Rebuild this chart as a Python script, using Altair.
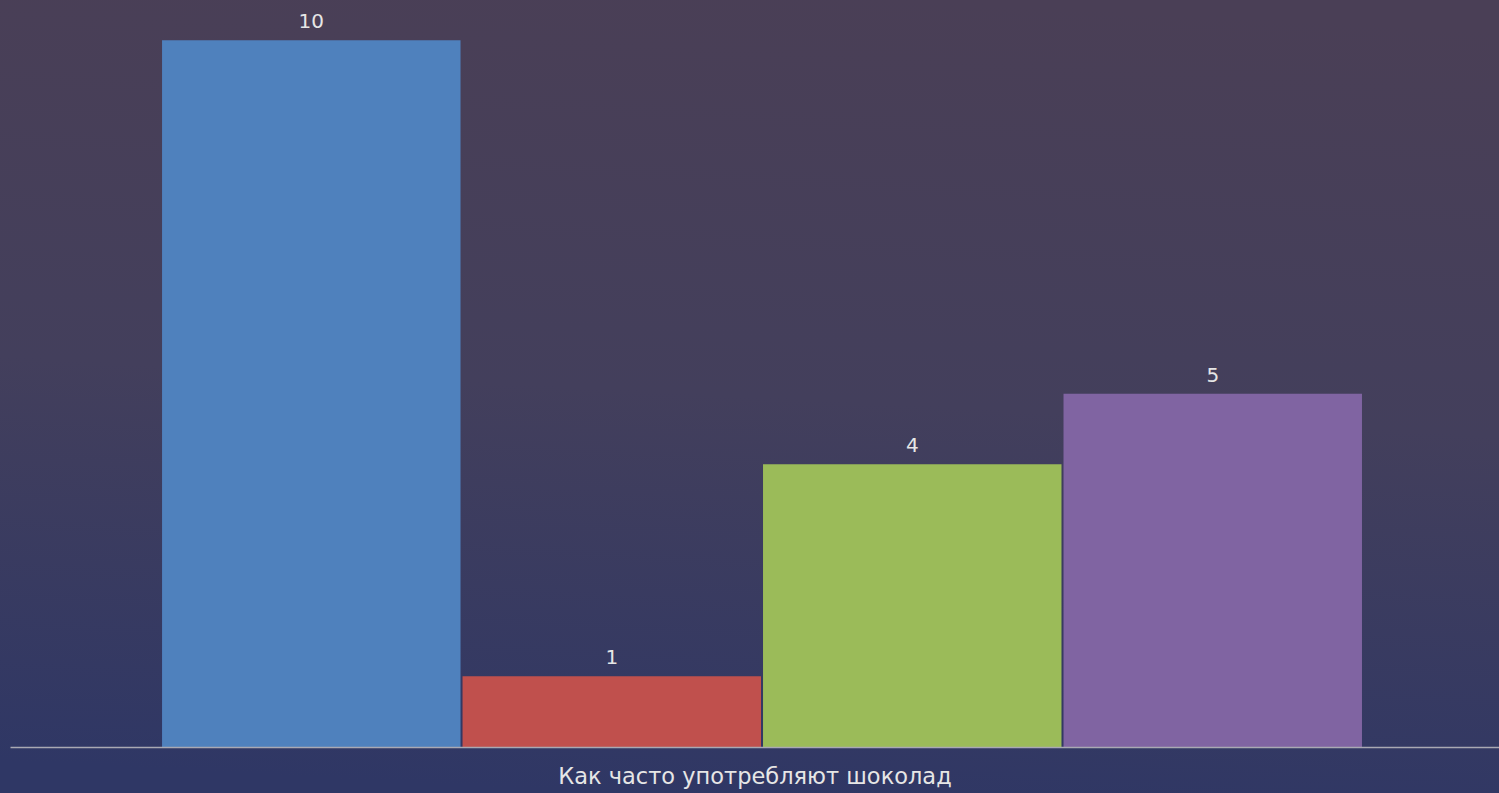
import altair as alt
import pandas as pd

categories = ["Каждый день", "Раз в неделю", "Несколько раз в неделю", "Редко"]
values = [10, 1, 4, 5]
colors = ["#4F81BD", "#C0504D", "#9BBB59", "#8064A2"]
axis_title = "Как часто употребляют шоколад"

df = pd.DataFrame({"cat": categories, "val": values, "col": colors})

W, H = 1489, 747

bg = alt.Chart(alt.Data(values=[{"a": 1}])).mark_rect(
    color=alt.Gradient(
        gradient="linear",
        stops=[alt.GradientStop(color="#4a3f56", offset=0),
               alt.GradientStop(color="#433f5c", offset=0.5),
               alt.GradientStop(color="#2f3765", offset=1)],
        x1=0.55, y1=0, x2=0.45, y2=1,
    )
).encode(
    x=alt.value(-10), x2=alt.value(W + 10),
    y=alt.value(-5), y2=alt.value(H + 50),
)

x_enc = alt.X(
    "cat:N", sort=categories,
    scale=alt.Scale(paddingInner=0.0067, paddingOuter=0.481, align=0.526),
    axis=alt.Axis(labels=False, ticks=False, domain=True, domainColor="#a9a9b3",
                  domainWidth=1.5, title=axis_title, titleColor="#e6e6e6",
                  titleFont="DejaVu Sans", titleFontSize=22.5, titleFontWeight="normal",
                  titlePadding=18, zindex=1),
)
y_enc = alt.Y("val:Q", scale=alt.Scale(domain=[0, 10.57], nice=False), axis=None)

bars = alt.Chart(df).mark_bar().encode(
    x=x_enc, y=y_enc,
    color=alt.Color("col:N", scale=None),
)

labels = alt.Chart(df).mark_text(
    baseline="bottom", dy=-8, font="DejaVu Sans", fontSize=20, color="#e6e6e6"
).encode(
    x=alt.X("cat:N", sort=categories), y=alt.Y("val:Q"), text="val:Q"
)

chart = alt.layer(bg, bars, labels).properties(
    width=W, height=H,
    padding={"left": 10, "top": 0, "right": 0, "bottom": 46},
    autosize=alt.AutoSizeParams(type="none"),
    background="#353a62",
).configure_view(stroke=None)

chart.save("out.html", embed_options={"renderer": "svg", "actions": False})
